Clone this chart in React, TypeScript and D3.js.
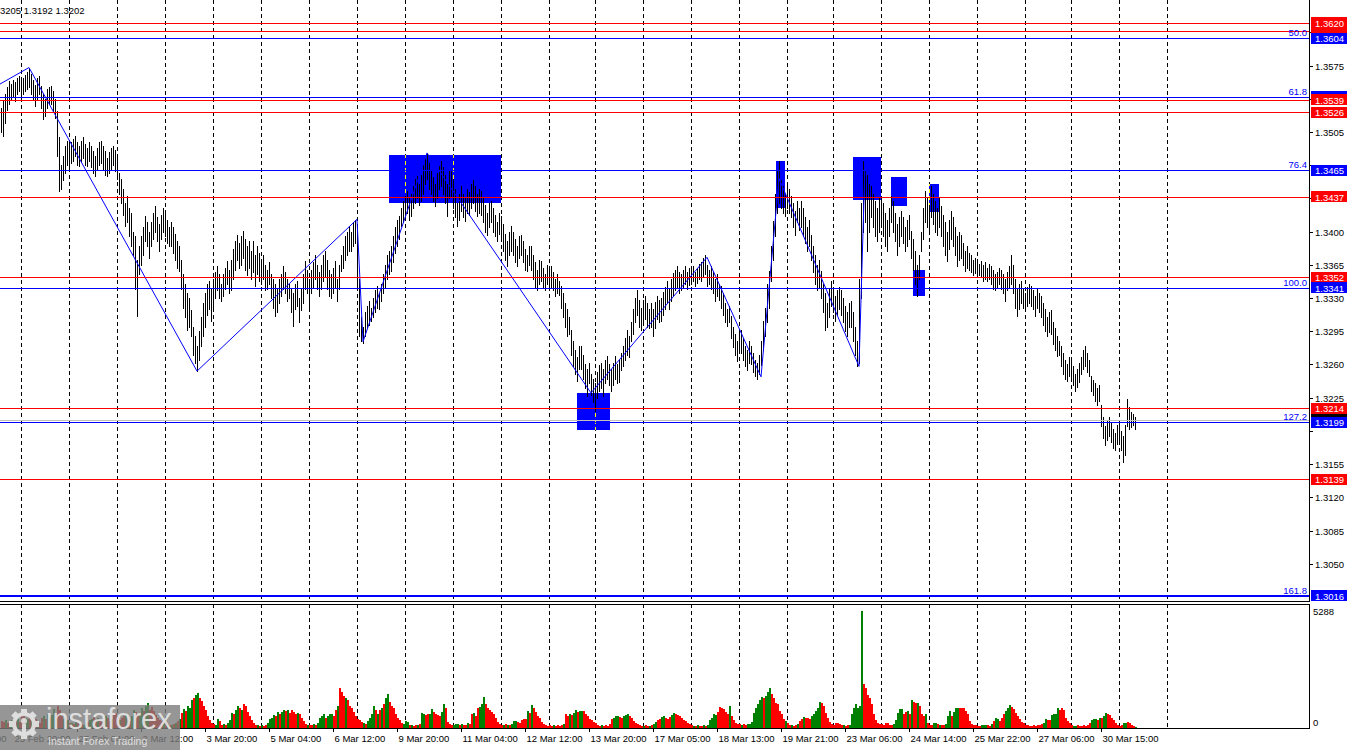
import React, { useEffect, useRef } from 'react';
import * as d3 from 'd3';

// GBPUSD H1 bars, prices in pips (13540 = 1.3540), oldest first
const highs = [
  13530,13538,13545,13552,13559, 13556,13560,13558,13562,13564,
  13560,13562,13565,13568,13572, 13566,13560,13555,13562,13564,
  13554,13545,13540,13550,13552, 13554,13548,13540,13527,13500,
  13470,13480,13490,13496,13492, 13495,13498,13501,13494,13490,
  13496,13500,13492,13488,13495, 13490,13485,13480,13488,13494,
  13496,13490,13485,13478,13484, 13488,13490,13486,13478,13462,
  13455,13445,13430,13438,13425, 13420,13400,13395,13370,13385,
  13395,13405,13417,13410,13400, 13410,13420,13427,13415,13408,
  13418,13425,13420,13412,13405, 13410,13405,13398,13390,13385,
  13370,13355,13345,13335,13330, 13317,13300,13290,13280,13295,
  13310,13325,13335,13345,13348, 13340,13350,13358,13364,13355,
  13345,13355,13362,13369,13360, 13370,13382,13390,13396,13388,
  13395,13401,13392,13385,13390, 13380,13390,13375,13385,13378,
  13370,13375,13365,13360,13368, 13355,13350,13345,13340,13350,
  13355,13364,13358,13350,13345, 13340,13335,13345,13348,13330,
  13340,13355,13369,13360,13350, 13360,13368,13375,13365,13358,
  13365,13375,13380,13370,13360, 13355,13362,13369,13350,13365,
  13375,13385,13395,13400,13406, 13400,13410,13412,13405,13350,
  13310,13300,13315,13322,13327, 13320,13330,13338,13343,13335,
  13345,13355,13365,13375,13380, 13385,13395,13405,13412,13417,
  13425,13432,13438,13443,13436, 13440,13448,13455,13459,13450,
  13460,13470,13478,13482,13472, 13465,13458,13450,13462,13469,
  13475,13468,13460,13450,13465, 13464,13455,13445,13430,13440,
  13448,13440,13435,13445,13442, 13450,13454,13448,13440,13445,
  13443,13435,13428,13420,13430, 13432,13425,13418,13410,13420,
  13417,13408,13398,13390,13400, 13406,13400,13392,13385,13395,
  13396,13390,13382,13375,13385, 13385,13375,13368,13360,13370,
  13369,13362,13355,13365,13360, 13364,13358,13350,13355,13348,
  13343,13335,13325,13318,13310, 13296,13285,13275,13268,13280,
  13280,13270,13260,13255,13262, 13250,13245,13240,13252,13259,
  13262,13255,13265,13269,13260, 13255,13262,13269,13260,13265,
  13272,13280,13288,13296,13290, 13305,13318,13330,13338,13328,
  13320,13328,13332,13325,13318, 13325,13318,13326,13332,13328,
  13330,13336,13342,13348,13340, 13350,13356,13360,13364,13358,
  13355,13360,13364,13358,13362, 13360,13364,13358,13362,13366,
  13368,13372,13375,13365,13360, 13364,13358,13350,13355,13345,
  13343,13335,13325,13318,13322, 13311,13300,13292,13285,13295,
  13296,13288,13280,13275,13285, 13280,13272,13265,13262,13270,
  13285,13306,13320,13345,13359, 13385,13411,13440,13465,13475,
  13454,13448,13440,13450,13445, 13438,13430,13422,13432,13425,
  13432,13425,13415,13405,13412, 13396,13385,13375,13365,13370,
  13359,13345,13335,13325,13340, 13348,13340,13332,13338,13342,
  13338,13330,13322,13315,13325, 13327,13315,13300,13285,13350,
  13430,13475,13465,13460,13450, 13448,13440,13432,13425,13435,
  13438,13430,13420,13412,13425, 13438,13432,13420,13408,13415,
  13422,13415,13405,13412,13418, 13401,13392,13380,13365,13375,
  13400,13425,13443,13435,13428, 13448,13440,13432,13425,13436,
  13427,13418,13410,13400,13412, 13422,13415,13405,13395,13400,
  13396,13388,13380,13385,13378, 13375,13370,13372,13368,13366,
  13369,13365,13368,13362,13366, 13364,13360,13355,13358,13362,
  13360,13355,13350,13358,13364, 13375,13365,13350,13340,13345,
  13348,13340,13335,13342,13345, 13343,13338,13332,13340,13335,
  13332,13325,13318,13310,13315, 13317,13305,13298,13290,13285,
  13280,13272,13265,13260,13268, 13265,13258,13250,13255,13262,
  13268,13275,13280,13272,13265, 13248,13244,13240,13235,13238,
  13217,13205,13195,13200,13205, 13198,13192,13188,13196,13201,
  13190,13185,13196, 13224,13215,13210,13208,13205,
];

const lows = [
  13505,13501,13515,13528,13535, 13540,13542,13538,13545,13548,
  13540,13545,13548,13550,13552, 13545,13540,13532,13540,13545,
  13530,13519,13522,13530,13535, 13535,13527,13520,13480,13443,
  13445,13454,13462,13470,13468, 13472,13475,13480,13470,13469,
  13475,13478,13470,13469,13474, 13468,13462,13459,13465,13470,
  13472,13465,13460,13459,13462, 13466,13470,13464,13455,13440,
  13430,13418,13406,13410,13395, 13385,13375,13340,13311,13355,
  13365,13375,13390,13385,13372, 13385,13392,13400,13390,13380,
  13392,13400,13395,13388,13385, 13385,13378,13370,13362,13359,
  13340,13320,13310,13296,13300, 13290,13270,13262,13253,13265,
  13280,13290,13300,13312,13318, 13306,13320,13330,13338,13330,
  13327,13332,13340,13345,13335, 13338,13350,13360,13370,13362,
  13365,13372,13360,13354,13362, 13350,13358,13343,13355,13348,
  13345,13350,13338,13340,13345, 13330,13320,13311,13315,13325,
  13332,13340,13335,13327,13330, 13315,13301,13318,13322,13305,
  13317,13325,13340,13335,13320, 13335,13342,13350,13340,13332,
  13340,13348,13352,13340,13332, 13330,13335,13342,13327,13340,
  13359,13362,13370,13375,13380, 13380,13385,13388,13340,13290,
  13285,13283,13290,13298,13302, 13306,13310,13315,13320,13318,
  13327,13335,13342,13350,13355, 13359,13368,13378,13385,13392,
  13406,13410,13415,13420,13412, 13417,13425,13430,13435,13428,
  13432,13440,13450,13455,13445, 13440,13432,13427,13435,13445,
  13448,13440,13430,13417,13435, 13438,13425,13415,13406,13412,
  13422,13415,13411,13420,13418, 13425,13430,13422,13417,13420,
  13418,13410,13400,13396,13405, 13410,13400,13395,13390,13398,
  13392,13380,13370,13364,13375, 13380,13375,13368,13364,13372,
  13375,13368,13360,13359,13365, 13360,13350,13342,13338,13345,
  13348,13342,13338,13345,13340, 13342,13338,13332,13335,13333,
  13320,13310,13300,13290,13292, 13270,13258,13250,13243,13255,
  13255,13245,13235,13227,13240, 13228,13220,13211,13225,13232,
  13235,13227,13240,13245,13238, 13232,13238,13245,13240,13242,
  13254,13258,13265,13270,13268, 13285,13292,13305,13312,13300,
  13296,13302,13308,13300,13298, 13300,13290,13298,13308,13305,
  13306,13312,13318,13325,13318, 13327,13332,13338,13342,13335,
  13338,13342,13345,13340,13344, 13345,13348,13343,13346,13350,
  13348,13352,13355,13343,13345, 13340,13335,13327,13332,13328,
  13320,13312,13305,13301,13305, 13288,13278,13270,13264,13272,
  13272,13265,13258,13254,13262, 13260,13252,13248,13245,13250,
  13259,13275,13290,13305,13320, 13348,13370,13395,13420,13430,
  13425,13420,13417,13425,13420, 13415,13405,13396,13410,13402,
  13405,13395,13388,13380,13385, 13370,13358,13345,13338,13342,
  13330,13315,13296,13300,13310, 13322,13315,13306,13312,13318,
  13312,13305,13295,13290,13300, 13300,13285,13270,13258,13262,
  13330,13400,13410,13380,13400, 13415,13405,13395,13390,13400,
  13408,13395,13385,13380,13395, 13410,13400,13390,13375,13385,
  13395,13388,13380,13385,13392, 13372,13360,13345,13332,13350,
  13380,13392,13410,13405,13398, 13415,13408,13400,13396,13405,
  13395,13385,13375,13369,13382, 13392,13385,13375,13364,13370,
  13372,13365,13359,13362,13360, 13358,13354,13356,13355,13354,
  13352,13348,13350,13348,13350, 13345,13340,13338,13342,13345,
  13340,13335,13327,13338,13342, 13345,13335,13320,13311,13318,
  13325,13320,13317,13322,13325, 13322,13318,13311,13320,13315,
  13310,13302,13295,13290,13294, 13292,13282,13275,13269,13270,
  13258,13250,13245,13243,13248, 13245,13238,13232,13236,13242,
  13250,13255,13258,13252,13248, 13232,13228,13222,13217,13222,
  13195,13182,13175,13180,13185, 13178,13172,13170,13176,13180,
  13170,13157,13165, 13195,13192,13194,13196,13192,
];

// tick volume per bar, sign = bar direction (+ up / - down)
const volumes = [
  -320,-270,360,-230,270, 360,-460,-320,410,-270,
  -550,-640,460,410,-500, 360,-320,-410,270,-230,
  -460,550,-410,640,-500, 600,870,-680,-1000,-820,
  -550,410,-320,360,-230, 230,-180,270,-230,180,
  -180,140,230,-270,360, 410,-500,-320,460,-360,
  -270,360,550,-460,-320, 410,-600,-680,-500,360,
  -460,-550,640,-410,-320, 550,820,-730,-600,680,
  910,-780,1000,1140,-820, -960,-780,-600,-460,-360,
  -320,230,-270,180,-140, 140,-180,230,-320,410,
  -680,870,-780,1000,910, 1280,-1370,1500,1600,-1370,
  -1230,-1000,-820,-550,-360, -230,-180,140,410,-320,
  -140,180,-140,230,360, 680,-640,820,1000,-910,
  820,-1090,-1000,-730,-550, -360,-230,-140,140,-90,
  140,-90,-140,230,410, 460,600,-550,730,-640,
  730,820,-780,820,-680, -820,-730,-640,680,-640,
  -460,-320,-180,140,-140, -140,180,-140,230,460,
  550,640,-460,550,640, 640,-550,-820,1000,-1820,
  -1640,-1460,1370,-1280,-1000, -910,-730,-550,-410,-360,
  -270,230,-180,320,460, 640,1000,-820,640,-820,
  910,-1090,1370,1550,-1180, -1000,-910,-640,-460,-360,
  -230,180,320,270,-140, 140,-90,-140,140,-180,
  680,640,-600,-640,640, 870,-730,-640,-600,-550,
  730,1090,-910,-270,-180, -140,140,180,180,-140,
  180,-140,-140,230,-180, -640,680,-550,-910,960,
  1090,1410,-1090,-910,-820, -730,-640,-460,-270,-180,
  -140,140,-180,140,-140, 180,320,320,-270,-230,
  -360,-410,-410,780,-680, 1050,-910,-730,-550,-460,
  -270,-180,-140,-90,-140, -90,140,-90,-140,-90,
  -140,180,-640,-550,640, -600,680,820,-730,780,
  780,-780,-640,-550,-410, -360,-270,-230,-140,-90,
  140,-90,-140,-90,-180, -410,460,550,550,-500,
  -460,550,600,640,-550, -460,-320,-230,-180,-140,
  -90,90,-140,-90,90, -140,180,270,-360,-410,
  500,550,-460,-410,-500, 600,680,-640,-600,-550,
  -460,-360,-320,-230,-180, -140,90,-90,140,-90,
  -90,140,-90,140,360, 460,640,600,-730,-960,
  -910,-870,-730,-640,1000, -550,-360,-230,-180,-180,
  140,-180,-140,180,180, 270,680,910,1090,1280,
  1410,-1370,1460,1640,1820, -1550,-1370,-1140,-1090,-780,
  -640,-410,320,-230,-140, 140,-90,-140,180,-320,
  -410,500,-460,-460,-410, 550,640,780,910,1180,
  -1140,-1000,-680,-460,-270, -180,-140,-230,-230,-180,
  -140,140,-90,-140,140, 640,910,1090,910,1000,
  5288,-2010,-1820,-1500,-1370, -1090,-640,-360,-230,-180,
  -180,-140,-230,-230,-140, -140,180,360,680,870,
  870,-640,-730,780,-640, 1280,-1180,-1140,1140,-1000,
  -640,-550,640,-230,-140, -140,230,230,-180,140,
  -140,-140,180,550,780, -550,730,910,910,-910,
  -910,-910,-780,-640,-320, -180,-140,-140,-90,-90,
  140,140,140,-140,-90, 180,-320,460,410,-320,
  -460,-640,780,910,1050, -960,-870,-680,-550,-410,
  -270,-230,-140,-140,-90, -90,-140,-90,-140,-140,
  -180,230,410,-360,-360, 600,640,640,910,-820,
  -910,-820,-460,-320,-230, -140,90,90,-140,-90,
  -90,-140,-90,-140,-230, 360,410,410,-360,460,
  -460,550,680,-640,-600, -460,-360,-230,-140,-90,
  -140,230,230, -270,-230,-140,-90,50,
];

// bar index of each day's first hour (grid)
const dayStarts = [10, 34, 58, 82, 106, 130, 154, 178, 202, 226, 250, 274, 297, 321, 345, 369, 393, 416, 440, 464, 488, 512, 535, 559, 583];
const timeLabels = ['24 Feb 12:00', '25 Feb 20:00', '27 Feb 04:00', '2 Mar 12:00', '3 Mar 20:00', '5 Mar 04:00', '6 Mar 12:00', '9 Mar 20:00', '11 Mar 04:00', '12 Mar 12:00', '13 Mar 20:00', '17 Mar 05:00', '18 Mar 13:00', '19 Mar 21:00', '23 Mar 06:00', '24 Mar 14:00', '25 Mar 22:00', '27 Mar 06:00', '30 Mar 15:00'];
const timeLabelBars = [-26, 6, 38, 70, 102, 134, 166, 198, 230, 262, 294, 326, 358, 390, 422, 454, 486, 518, 550];

const priceTicks = [1.3610, 1.3575, 1.3540, 1.3505, 1.3470, 1.3435, 1.3400, 1.3365, 1.3330, 1.3295, 1.3260, 1.3225, 1.3190, 1.3155, 1.3120, 1.3085, 1.3050];

// zigzag pivots: [bar index, price in pips]
const zigzag = [[-1, 13555], [14, 13573], [98, 13253], [178, 13413], [181, 13284], [213, 13483], [295, 13230], [353, 13373], [380, 13247], [389, 13456], [429, 13258], [432, 13470]];

const redLevels = [1.3620, 1.3611, 1.3539, 1.3526, 1.3437, 1.3352, 1.3214, 1.3139];
const fibLevels = [1.3604, 1.3542, 1.3465, 1.3341, 1.3199, 1.3016];
const fibNames = ['50.0', '61.8', '76.4', '100.0', '127.2', '161.8'];
const lastPrice = 1.3202;

// rectangles: bar index from/to, price top/bottom
const zoneFrom = [194, 288, 387.5, 426, 445, 456, 464];
const zoneTo = [250, 304.5, 392, 440, 453, 462, 469];
const zoneTop = [1.3481, 1.3230, 1.3475, 1.3479, 1.3458, 1.3360, 1.3450];
const zoneBottom = [1.3430, 1.3191, 1.3425, 1.3433, 1.3427, 1.3332, 1.3421];

const volMax = 5288;

const FONT = "'Liberation Sans', Arial, sans-serif";
const W = 1350;
const H = 750;
const AXIS_X = 1309;
const PRICE_BOTTOM = 601;
const VOL_TOP = 604;
const VOL_BOTTOM = 728;

const App = () => {
  const ref = useRef<SVGSVGElement | null>(null);

  useEffect(() => {
    document.body.style.margin = '0';
    if (!ref.current) return;
    const svg = d3.select(ref.current);
    svg.selectAll('*').remove();

    const x = d3.scaleLinear().domain([0, 654]).range([1, 1309]);
    const y = d3.scaleLinear().domain([1.30107, 1.36442]).range([PRICE_BOTTOM, 0]);
    const yVol = d3.scaleLinear().domain([0, volMax]).range([VOL_BOTTOM, 611]);
    const px = (i: number) => Math.round(x(i)) + 0.5;
    const py = (p: number) => Math.round(y(p)) + 0.5;

    svg.append('rect').attr('width', W).attr('height', H).attr('fill', '#fff');

    const defs = svg.append('defs');
    const zoneClip = defs.append('clipPath').attr('id', 'zones');
    const zones = zoneFrom.map((f, k) => ({ f, t: zoneTo[k], top: zoneTop[k], bot: zoneBottom[k] }));
    zones.forEach((z) => {
      zoneClip.append('rect')
        .attr('x', Math.round(x(z.f))).attr('y', Math.round(y(z.top)))
        .attr('width', Math.round(x(z.t)) - Math.round(x(z.f)))
        .attr('height', Math.round(y(z.bot)) - Math.round(y(z.top)));
    });

    // grid
    const grid = svg.append('g').attr('stroke', '#000').attr('stroke-dasharray', '4,3').attr('shape-rendering', 'crispEdges');
    dayStarts.forEach((d) => {
      grid.append('line').attr('x1', px(d)).attr('x2', px(d)).attr('y1', 0).attr('y2', PRICE_BOTTOM);
      grid.append('line').attr('x1', px(d)).attr('x2', px(d)).attr('y1', VOL_TOP).attr('y2', VOL_BOTTOM);
    });

    // rectangles
    svg.append('g').selectAll('rect').data(zones).enter().append('rect')
      .attr('x', (z) => Math.round(x(z.f))).attr('y', (z) => Math.round(y(z.top)))
      .attr('width', (z) => Math.round(x(z.t)) - Math.round(x(z.f)))
      .attr('height', (z) => Math.round(y(z.bot)) - Math.round(y(z.top)))
      .attr('fill', '#0000ff');

    // grid shows yellow over the rectangles
    const yGrid = svg.append('g').attr('clip-path', 'url(#zones)').attr('stroke', '#ffff00')
      .attr('stroke-dasharray', '4,3').attr('shape-rendering', 'crispEdges');
    dayStarts.forEach((d) => {
      yGrid.append('line').attr('x1', px(d)).attr('x2', px(d)).attr('y1', 0).attr('y2', PRICE_BOTTOM);
    });

    // bars
    svg.append('g').attr('stroke', '#000').attr('shape-rendering', 'crispEdges')
      .selectAll('line').data(highs).enter().append('line')
      .attr('x1', (_, i) => px(i)).attr('x2', (_, i) => px(i))
      .attr('y1', (h) => Math.round(y(h / 10000)))
      .attr('y2', (_, i) => Math.round(y(lows[i] / 10000)) + 1);

    // zigzag
    const zz = d3.line<number[]>().x((d) => x(d[0])).y((d) => y(d[1] / 10000));
    svg.append('path').attr('d', zz(zigzag)).attr('fill', 'none').attr('stroke', '#0000ff').attr('stroke-width', 1);

    // horizontal levels
    const lv = svg.append('g').attr('shape-rendering', 'crispEdges');
    redLevels.forEach((p) => {
      lv.append('line').attr('x1', 0).attr('x2', AXIS_X).attr('y1', py(p)).attr('y2', py(p)).attr('stroke', '#ff0000');
    });
    fibLevels.forEach((p, k) => {
      const w = k === fibLevels.length - 1 ? 2 : 1;
      const yy = w === 2 ? Math.round(y(p)) : py(p);
      lv.append('line').attr('x1', 0).attr('x2', AXIS_X).attr('y1', yy).attr('y2', yy).attr('stroke', '#0000ff').attr('stroke-width', w);
      svg.append('text').attr('x', AXIS_X - 2).attr('y', Math.round(y(p)) - 2.5).attr('text-anchor', 'end')
        .attr('font-family', FONT).attr('font-size', 9.5).attr('fill', '#0000ff').text(fibNames[k]);
    });
    lv.append('line').attr('x1', 0).attr('x2', AXIS_X).attr('y1', py(lastPrice)).attr('y2', py(lastPrice)).attr('stroke', '#c0c0c0');

    // volumes
    svg.append('g').attr('shape-rendering', 'crispEdges')
      .selectAll('rect').data(volumes).enter().append('rect')
      .attr('x', (_, i) => Math.round(x(i)))
      .attr('width', 2)
      .attr('y', (v) => Math.round(yVol(Math.abs(v))))
      .attr('height', (v) => VOL_BOTTOM - Math.round(yVol(Math.abs(v))))
      .attr('fill', (v) => (v >= 0 ? '#008000' : '#ff0000'));

    // frames
    const fr = svg.append('g').attr('stroke', '#000').attr('fill', 'none').attr('shape-rendering', 'crispEdges');
    fr.append('line').attr('x1', AXIS_X + 0.5).attr('x2', AXIS_X + 0.5).attr('y1', 0).attr('y2', PRICE_BOTTOM + 1);
    fr.append('line').attr('x1', 0).attr('x2', AXIS_X + 1).attr('y1', PRICE_BOTTOM + 0.5).attr('y2', PRICE_BOTTOM + 0.5);
    fr.append('rect').attr('x', -1).attr('y', VOL_TOP + 0.5).attr('width', AXIS_X + 1.5).attr('height', VOL_BOTTOM - VOL_TOP);

    const tags = [
      ...redLevels.map((p) => ({ p, c: '#ff0000' })),
      ...fibLevels.map((p) => ({ p, c: '#0000ff' })),
      { p: lastPrice, c: '#000000' },
    ].sort((a, b) => b.p - a.p);

    // price axis: tick texts hidden behind a price tag are not drawn
    const ax = svg.append('g').attr('font-family', FONT).attr('font-size', 9.5);
    priceTicks.forEach((t) => {
      ax.append('line').attr('x1', AXIS_X).attr('x2', AXIS_X + 4).attr('y1', py(t)).attr('y2', py(t)).attr('stroke', '#000').attr('shape-rendering', 'crispEdges');
      const covered = tags.some((g) => Math.abs(y(g.p) - y(t)) < 9);
      if (!covered) {
        ax.append('text').attr('x', AXIS_X + 6).attr('y', Math.round(y(t)) + 4).attr('fill', '#000').text(t.toFixed(4));
      }
    });
    ax.append('text').attr('x', AXIS_X + 4).attr('y', 614.5).attr('fill', '#000').text(String(volMax));
    ax.append('text').attr('x', AXIS_X + 4).attr('y', 725.5).attr('fill', '#000').text('0');

    // price tags (lower price drawn on top)
    tags.forEach((t) => {
      const yy = y(t.p);
      ax.append('rect').attr('x', AXIS_X + 2).attr('y', Math.round(yy - 5.5)).attr('width', 36).attr('height', 11).attr('fill', t.c);
    });
    tags.forEach((t, k) => {
      const yy = y(t.p);
      const next = tags[k + 1];
      // a tag mostly covered by the one below shows no readable text
      if (next && Math.abs(y(next.p) - yy) < 8) return;
      ax.append('text').attr('x', AXIS_X + 6).attr('y', Math.round(yy) + 4).attr('fill', '#fff').text(t.p.toFixed(4));
    });

    // time axis
    const tx = svg.append('g').attr('font-family', FONT).attr('font-size', 9.5);
    timeLabels.forEach((l, k) => {
      const xx = px(timeLabelBars[k]);
      tx.append('line').attr('x1', xx).attr('x2', xx).attr('y1', VOL_BOTTOM).attr('y2', VOL_BOTTOM + 4).attr('stroke', '#000').attr('shape-rendering', 'crispEdges');
      tx.append('text').attr('x', xx + 1).attr('y', 742).attr('fill', '#000').text(l);
    });

    svg.append('text').attr('x', 0).attr('y', 14).attr('font-family', FONT).attr('font-size', 9.5).attr('fill', '#000').text('3205 1.3192 1.3202');

    // watermark
    const wm = svg.append('g');
    wm.append('rect').attr('x', 0).attr('y', 705).attr('width', 180).attr('height', 45).attr('fill', '#7c7c7c').attr('opacity', 0.8);
    const gear = wm.append('g').attr('transform', 'translate(24,724)').attr('fill', '#e6e6e6').attr('opacity', 0.9);
    d3.range(8).forEach((k) => {
      gear.append('rect').attr('x', -3).attr('y', -15).attr('width', 6).attr('height', 6).attr('transform', `rotate(${k * 45})`);
    });
    gear.append('circle').attr('r', 10).attr('fill', 'none').attr('stroke', '#e6e6e6').attr('stroke-width', 4);
    gear.append('circle').attr('cy', -3).attr('r', 3);
    gear.append('rect').attr('x', -2).attr('y', 0).attr('width', 4).attr('height', 8);
    wm.append('text').attr('x', 46).attr('y', 729).attr('font-family', FONT).attr('font-size', 29).attr('fill', '#e6e6e6').attr('opacity', 0.9).text('instaforex');
    wm.append('text').attr('x', 48).attr('y', 745).attr('font-family', FONT).attr('font-size', 10.5).attr('fill', '#e6e6e6').attr('opacity', 0.9).text('Instant Forex Trading');
  }, []);

  return (
    <svg ref={ref} width={W} height={H} style={{ display: 'block', position: 'absolute', left: 0, top: 0 }} />
  );
};

export default App;
